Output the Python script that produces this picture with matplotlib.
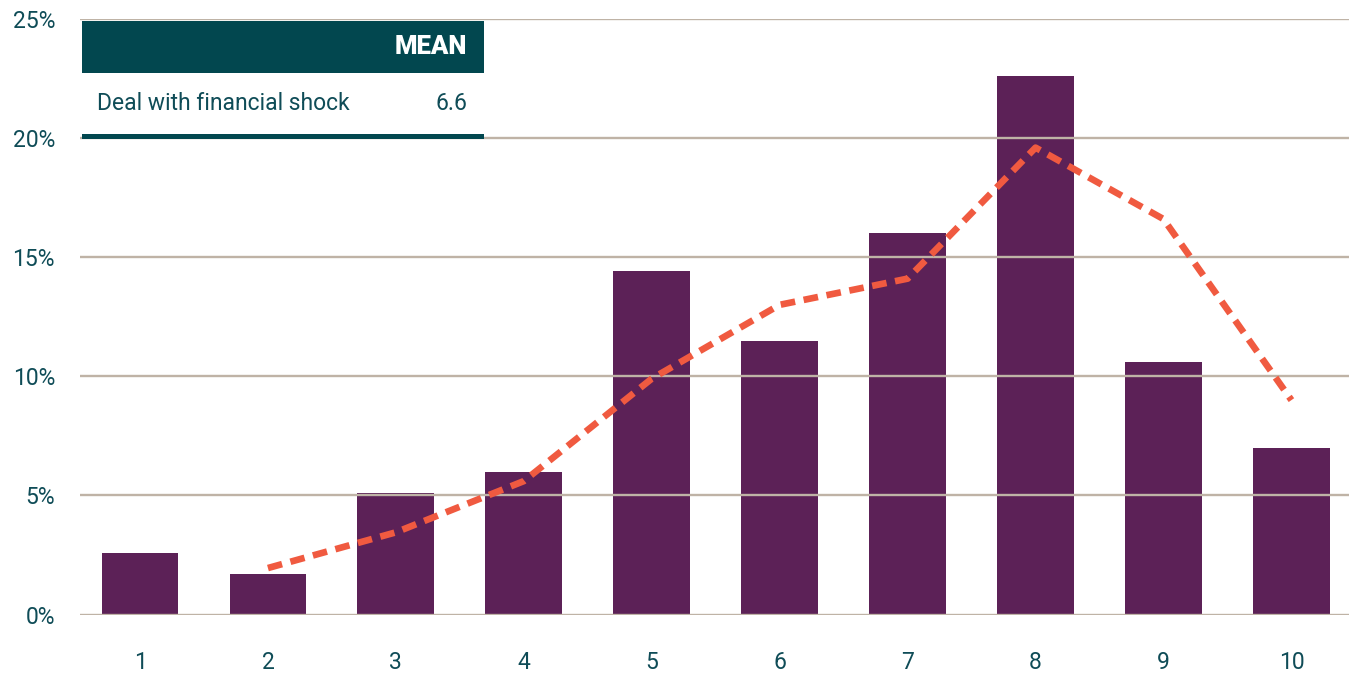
import matplotlib.pyplot as plt
from matplotlib.patches import Rectangle

plt.rcParams['font.family'] = ['Roboto', 'DejaVu Sans']

# share of respondents by score (1..10)
scores = [1, 2, 3, 4, 5, 6, 7, 8, 9, 10]
share = [2.6, 1.7, 5.1, 6.0, 14.4, 11.5, 16.0, 22.6, 10.6, 7.0]

# 2-period moving average trend, starts at score 2
trend_x = [2, 3, 4, 5, 6, 7, 8, 9, 10]
trend_y = [1.95, 3.45, 5.6, 9.9, 13.0, 14.1, 19.6, 16.6, 9.0]

y_ticks = [0, 5, 10, 15, 20, 25]
table_label = "Deal with financial shock"
table_value = "6.6"

bar_color = '#5C2157'
trend_color = '#F05A40'
grid_color = '#BFB3A6'
text_color = '#0F4C57'
teal = '#02474F'

W, H = 1349, 673
fig = plt.figure(figsize=(W / 100, H / 100), dpi=100)
fig.patch.set_facecolor('white')

ax = fig.add_axes([80 / W, (H - 614.5) / H, 1 - 80 / W, 595.5 / H])
ax.bar(scores, share, width=0.6, color=bar_color, zorder=1)
ax.plot(trend_x, trend_y, color=trend_color, lw=4.8, ls=(0, (2.2, 1.3)),
        solid_capstyle='butt', zorder=3)

for v in y_ticks:
    ax.axhline(v, color=grid_color, lw=1.7, zorder=2)

ax.set_xlim(0.531, 10.45)
ax.set_ylim(0, 25)
ax.set_xticks(scores)
ax.set_yticks(y_ticks)
ax.set_yticklabels([f"{v}%" for v in y_ticks])
ax.tick_params(axis='both', length=0, labelsize=16.5, colors=text_color)
ax.tick_params(axis='x', pad=26)
ax.tick_params(axis='y', pad=18)
for s in ax.spines.values():
    s.set_visible(False)

# mean table in the top-left corner
def px(x, y):
    return x / W, 1 - y / H

fig.patches.append(Rectangle(px(82, 73), 402 / W, 52 / H, transform=fig.transFigure,
                             facecolor=teal, edgecolor='none', zorder=5))
fig.patches.append(Rectangle(px(82, 139), 402 / W, 5 / H, transform=fig.transFigure,
                             facecolor=teal, edgecolor='none', zorder=5))
fig.text(*px(467, 47), "MEAN", color='white', fontsize=18.5, fontweight='heavy',
         ha='right', va='center', zorder=6)
fig.text(*px(97, 103), table_label, color=text_color, fontsize=16.5,
         ha='left', va='center', zorder=6)
fig.text(*px(467, 103), table_value, color=text_color, fontsize=16.5,
         ha='right', va='center', zorder=6)

fig.savefig('out.png', dpi=100)
